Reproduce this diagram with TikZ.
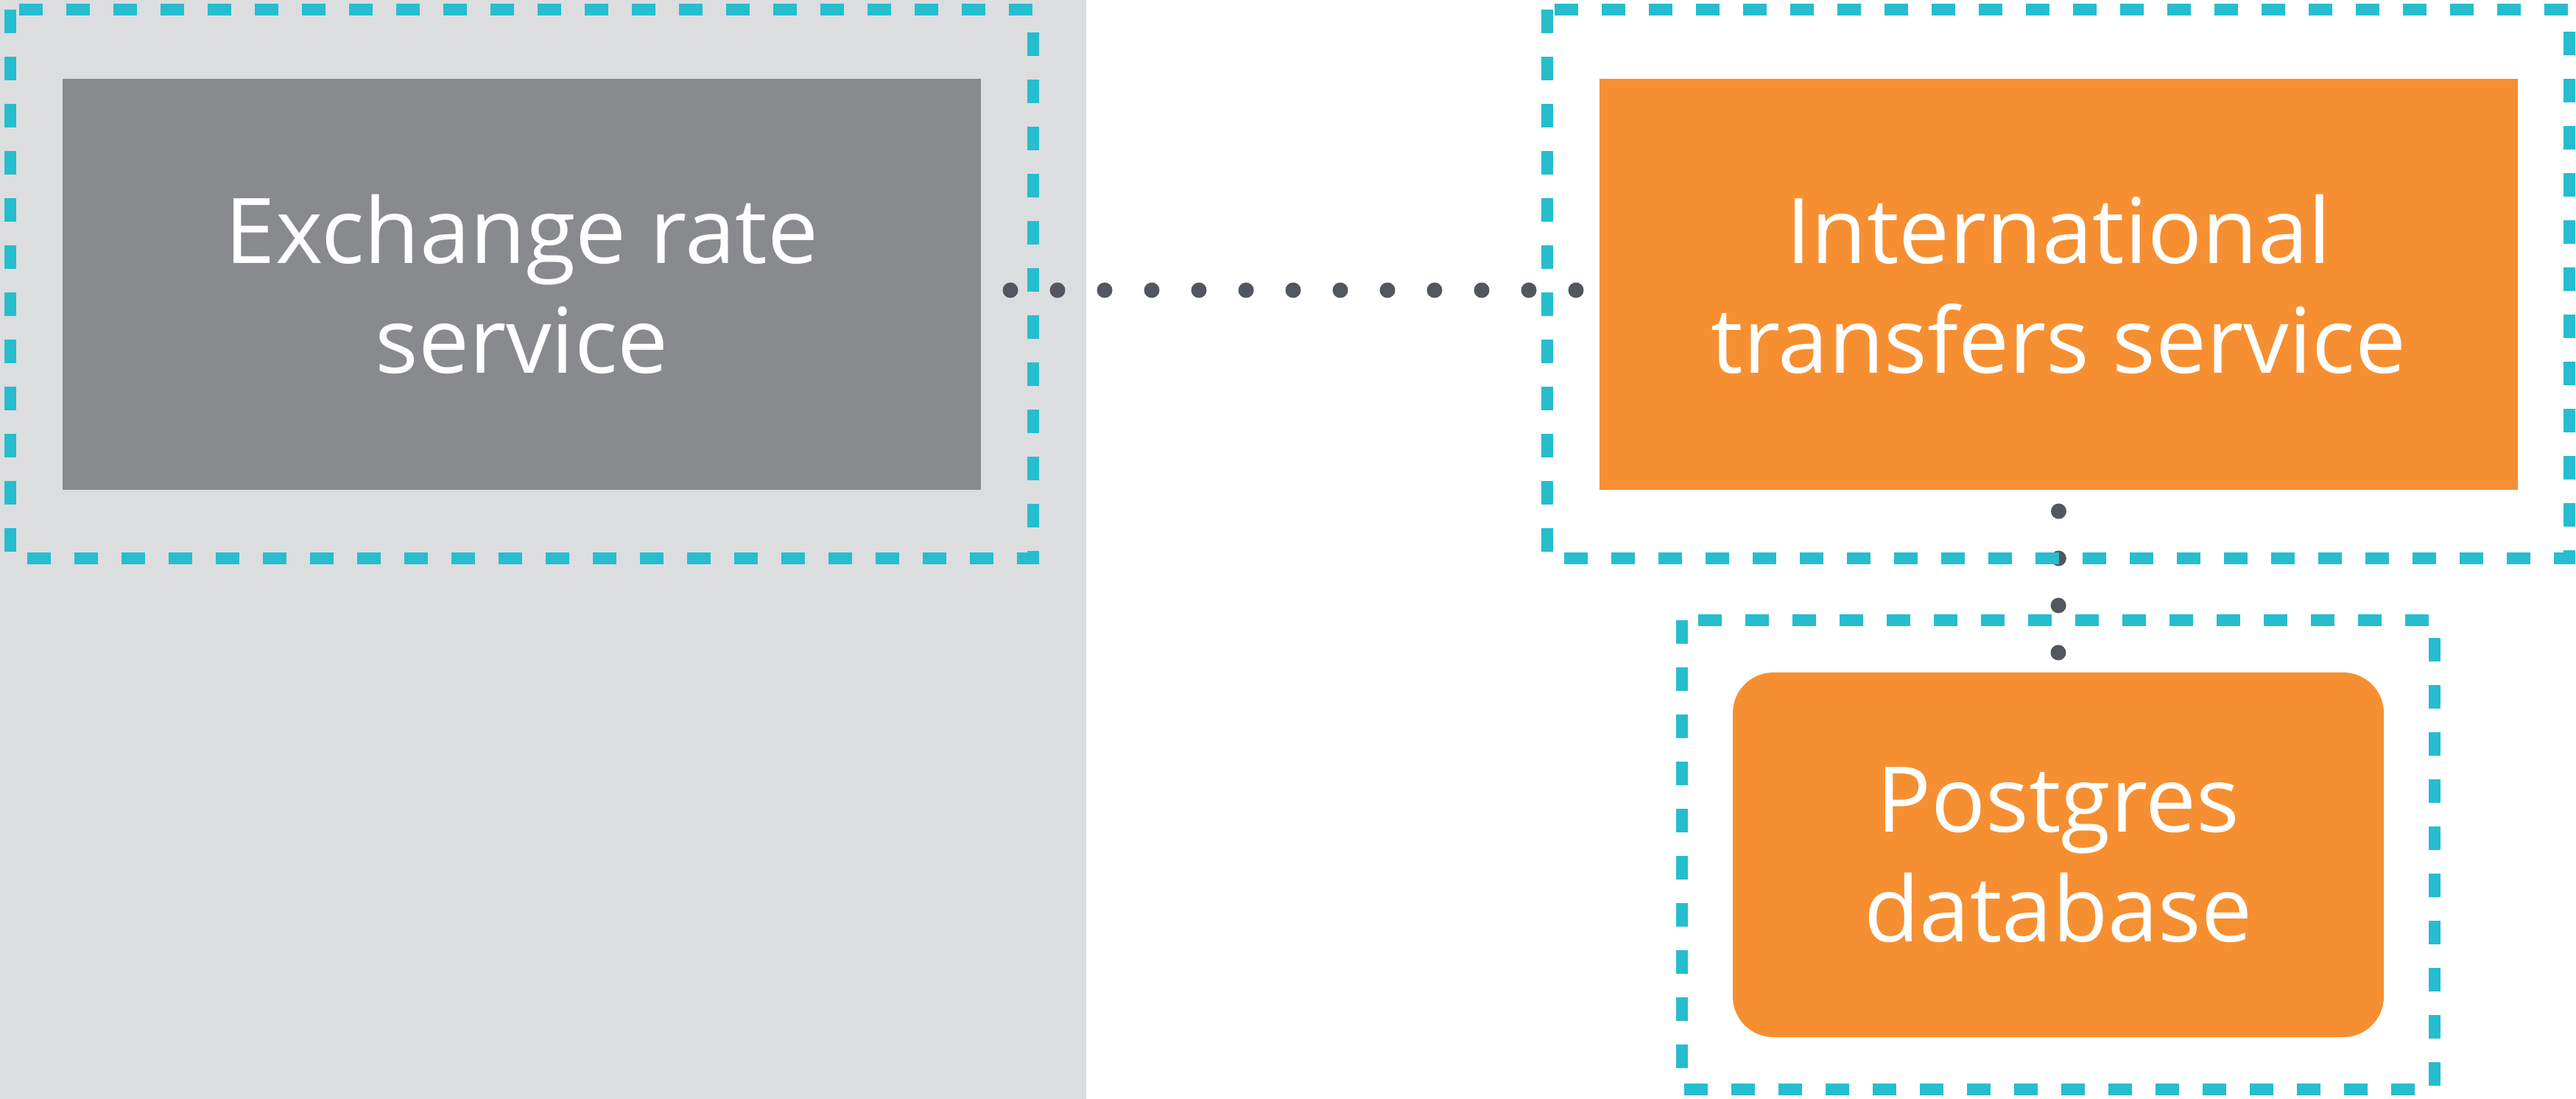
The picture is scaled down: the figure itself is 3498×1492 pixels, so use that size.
\documentclass[tikz,border=0pt]{standalone}
\usepackage{fontspec}
\setmainfont{Open Sans}
\usetikzlibrary{calc}
\definecolor{cyanD}{HTML}{26BDCF}
\definecolor{bgGrey}{HTML}{DCDDDF}
\definecolor{boxGrey}{HTML}{898A8E}
\definecolor{orangeC}{HTML}{F68F31}
\definecolor{dotC}{HTML}{52575F}
\begin{document}
\begin{tikzpicture}[x=0.2pt,y=-0.2pt,
  svcbox/.style={rectangle, inner sep=0pt, minimum width=249.4pt, minimum height=111.6pt,
    text=white, align=center, font=\fontsize{24.6pt}{29.8pt}\selectfont},
  dbbox/.style={rectangle, rounded corners=11pt, inner sep=0pt, minimum width=176.8pt, minimum height=99pt,
    fill=orangeC, text=white, align=center, font=\fontsize{24.6pt}{29.8pt}\selectfont},
  dotline/.style={draw=dotC, line width=4.2pt, line cap=round, dash pattern=on 0pt off 12.8pt},
  dashbox/.style={draw=cyanD, line width=3.2pt, dash pattern=on 6.4pt off 6.4pt}
]
\useasboundingbox (0,0) rectangle (3498,1492);
\fill[bgGrey] (0,0) rectangle (1475,1492);
\node[svcbox, fill=boxGrey] (exch) at (708.5,386) {Exchange rate\\service};
\node[svcbox, fill=orangeC] (intl) at (2795.5,386) {International\\transfers service};
\node[dbbox] (pg) at (2795,1160.5) {Postgres\\database};
\draw[dotline] ($(exch.east)+(39,8)$) -- ($(intl.west)+(-28,8)$);
\draw[dotline] ($(intl.south)+(0,28)$) -- ($(pg.north)+(0,-24)$);
\draw[dashbox] (14,13) rectangle (1403,758);
\draw[dashbox] (2101,13) rectangle (3489,758);
\draw[dashbox] (2284,842) rectangle (3306,1479);
\end{tikzpicture}
\end{document}
